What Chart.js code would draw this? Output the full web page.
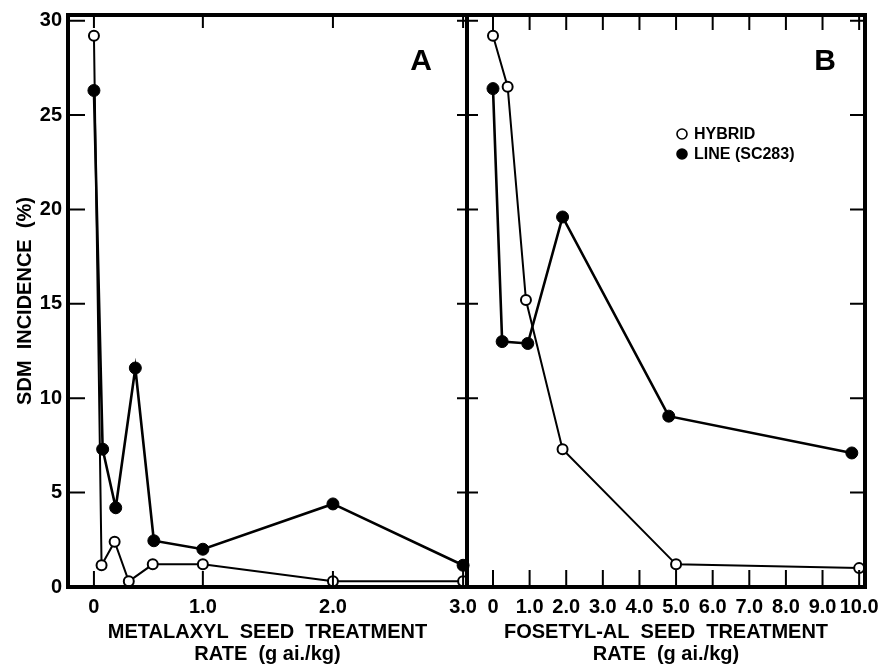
<!DOCTYPE html>
<html>
<head>
<meta charset="utf-8">
<script src="https://cdn.jsdelivr.net/npm/chart.js@4.4.1/dist/chart.umd.min.js"></script>
<style>
  body { margin: 0; background: #fff; }
  #wrap { position: relative; width: 886px; height: 665px; overflow: hidden; }
  canvas { position: absolute; top: 0; }
  #panelA { left: 0; }
  #panelB { left: 440px; }
</style>
</head>
<body>
<div id="wrap">
  <canvas id="panelA" width="480" height="665"></canvas>
  <canvas id="panelB" width="446" height="665"></canvas>
</div>
<script>
// panel A: metalaxyl rate (g a.i./kg) vs SDM incidence (%)
const metalaxylHybridX = [0, 0.07, 0.19, 0.32, 0.54, 1.0, 2.0, 3.0];
const metalaxylHybridY = [29.2, 1.15, 2.4, 0.3, 1.2, 1.2, 0.3, 0.3];
const metalaxylLineX = [0, 0.08, 0.2, 0.38, 0.55, 1.0, 2.0, 3.0];
const metalaxylLineY = [26.3, 7.3, 4.2, 11.6, 2.45, 2.0, 4.4, 1.15];

// panel B: fosetyl-Al rate
const fosetylHybridX = [0, 0.4, 0.9, 1.9, 5.0, 10.0];
const fosetylHybridY = [29.2, 26.5, 15.2, 7.3, 1.2, 1.0];
const fosetylLineX = [0, 0.25, 0.95, 1.9, 4.8, 9.8];
const fosetylLineY = [26.4, 13.0, 12.9, 19.6, 9.05, 7.1];

const seriesNames = ["HYBRID", "LINE (SC283)"];
const yTicks = [0, 5, 10, 15, 20, 25, 30];
const metalaxylTicks = [0, 1, 2, 3];
const metalaxylTickLabels = ["0", "1.0", "2.0", "3.0"];
const fosetylTicks = [0, 1, 2, 3, 4, 5, 6, 7, 8, 9, 10];
const fosetylTickLabels = ["0", "1.0", "2.0", "3.0", "4.0", "5.0", "6.0", "7.0", "8.0", "9.0", "10.0"];

// the metalaxyl axis is stretched between 0 and 1.0 on the original
const A_KNOTS = [[-0.24, 0], [0, 0.065], [1, 0.338], [2, 0.664], [3.03, 1]];

class KnotScale extends Chart.LinearScale {
  static id = "knot";
  static defaults = Chart.LinearScale.defaults;
  getPixelForValue(value) {
    const k = A_KNOTS;
    let i = 0;
    while (i < k.length - 2 && value > k[i + 1][0]) i++;
    const [v0, f0] = k[i], [v1, f1] = k[i + 1];
    return this.getPixelForDecimal(f0 + (value - v0) / (v1 - v0) * (f1 - f0));
  }
  getValueForPixel(pixel) {
    const d = this.getDecimalForPixel(pixel);
    const k = A_KNOTS;
    let i = 0;
    while (i < k.length - 2 && d > k[i + 1][1]) i++;
    const [v0, f0] = k[i], [v1, f1] = k[i + 1];
    return v0 + (d - f0) / (f1 - f0) * (v1 - v0);
  }
}
Chart.register(KnotScale);

const FONT = "'Liberation Sans', Arial, sans-serif";
const NARROW = "'Liberation Sans Narrow', 'Liberation Sans', Arial, sans-serif";

const toPoints = (xs, ys) => xs.map((x, i) => ({ x: x, y: ys[i] }));

const openStyle = {
  borderColor: "#000", borderWidth: 2,
  pointRadius: 5, pointBorderWidth: 2,
  pointBackgroundColor: "#fff", pointBorderColor: "#000",
  tension: 0, fill: false, clip: false
};
const filledStyle = {
  borderColor: "#000", borderWidth: 2.6,
  pointRadius: 6, pointBorderWidth: 1,
  pointBackgroundColor: "#000", pointBorderColor: "#000",
  tension: 0, fill: false, clip: false
};

// frame, inward ticks, panel letter and legend
const framePlugin = {
  id: "frame",
  afterDatasetsDraw(chart, args, opts) {
    const { ctx, chartArea: a, scales: { x, y } } = chart;
    ctx.save();
    ctx.strokeStyle = "#000";
    ctx.lineWidth = 2;
    ctx.beginPath();
    x.ticks.forEach(t => {
      const px = x.getPixelForValue(t.value);
      ctx.moveTo(px, a.top);
      ctx.lineTo(px, a.top + opts.tickTop);
      ctx.moveTo(px, a.bottom);
      ctx.lineTo(px, a.bottom - opts.tickBottom);
    });
    y.ticks.forEach(t => {
      const py = y.getPixelForValue(t.value);
      ctx.moveTo(a.left, py);
      ctx.lineTo(a.left + opts.tickLeft, py);
      ctx.moveTo(a.right, py);
      ctx.lineTo(a.right - opts.tickRight, py);
    });
    ctx.stroke();
    ctx.lineWidth = 4;
    ctx.strokeRect(a.left, a.top, a.right - a.left, a.bottom - a.top);

    ctx.fillStyle = "#000";
    ctx.font = "bold 30px " + FONT;
    ctx.textAlign = "center";
    ctx.textBaseline = "middle";
    ctx.fillText(opts.letter, opts.letterX, opts.letterY);

    if (opts.legend) {
      const L = opts.legend;
      ctx.font = "bold 16px " + FONT;
      ctx.textAlign = "left";
      chart.data.datasets.forEach((ds, i) => {
        const ly = L.y + i * L.gap;
        ctx.beginPath();
        ctx.arc(L.x, ly, 5, 0, Math.PI * 2);
        ctx.fillStyle = ds.pointBackgroundColor;
        ctx.fill();
        ctx.lineWidth = 1.6;
        ctx.stroke();
        ctx.fillStyle = "#000";
        ctx.fillText(ds.label, L.x + 12, ly + 1);
      });
    }
    ctx.restore();
  }
};

function fixX(h) {
  return s => { s.height = h; s.paddingLeft = 0; s.paddingRight = 0; };
}
function fixY(w) {
  return s => { s.width = w; s.paddingTop = 0; s.paddingBottom = 0; };
}

const xTickFont = { family: NARROW, size: 20, weight: "bold", lineHeight: 1.1 };
const yTickFont = { family: FONT, size: 20, weight: "bold", lineHeight: 1.2 };
const titleFont = { family: FONT, size: 20, weight: "bold", lineHeight: 1.1 };

new Chart(document.getElementById("panelA").getContext("2d"), {
  type: "line",
  data: {
    datasets: [
      { label: seriesNames[0], data: toPoints(metalaxylHybridX, metalaxylHybridY), ...openStyle, order: 1 },
      { label: seriesNames[1], data: toPoints(metalaxylLineX, metalaxylLineY), ...filledStyle, order: 2 }
    ]
  },
  options: {
    responsive: false,
    animation: false,
    layout: { padding: { top: 15, right: 13, left: 0, bottom: 0 } },
    plugins: {
      legend: { display: false },
      tooltip: { enabled: false },
      frame: { tickTop: 13, tickBottom: 16, tickLeft: 17, tickRight: 10, letter: "A", letterX: 421, letterY: 62 }
    },
    scales: {
      x: {
        type: "knot",
        min: -0.24, max: 3.03,
        afterBuildTicks: s => { s.ticks = metalaxylTicks.map(v => ({ value: v })); },
        afterFit: fixX(78),
        grid: { display: false, drawTicks: false },
        border: { display: false },
        ticks: {
          autoSkip: false, maxRotation: 0, padding: 9, color: "#000", font: xTickFont,
          callback: (v, i) => metalaxylTickLabels[i]
        },
        title: {
          display: true, color: "#000", font: titleFont,
          text: ["METALAXYL  SEED  TREATMENT", "RATE  (g ai./kg)"],
          padding: { top: 0, bottom: 0 }
        }
      },
      y: {
        min: 0, max: 30.3,
        afterBuildTicks: s => { s.ticks = yTicks.map(v => ({ value: v })); },
        afterFit: fixY(68),
        grid: { display: false, drawTicks: false },
        border: { display: false },
        ticks: { padding: 6, color: "#000", font: yTickFont },
        title: {
          display: true, color: "#000",
          font: { family: FONT, size: 20, weight: "bold", lineHeight: 1.2 },
          text: "SDM  INCIDENCE  (%)",
          padding: { top: 13, bottom: 0 }
        }
      }
    }
  },
  plugins: [framePlugin]
});

new Chart(document.getElementById("panelB").getContext("2d"), {
  type: "line",
  data: {
    datasets: [
      { label: seriesNames[0], data: toPoints(fosetylHybridX, fosetylHybridY), ...openStyle, order: 1 },
      { label: seriesNames[1], data: toPoints(fosetylLineX, fosetylLineY), ...filledStyle, order: 2 }
    ]
  },
  options: {
    responsive: false,
    animation: false,
    layout: { padding: { top: 15, right: 21, left: 0, bottom: 0 } },
    plugins: {
      legend: { display: false },
      tooltip: { enabled: false },
      frame: {
        tickTop: 15, tickBottom: 17, tickLeft: 11, tickRight: 15,
        letter: "B", letterX: 385, letterY: 62,
        legend: { x: 242, y: 134, gap: 20 }
      }
    },
    scales: {
      x: {
        type: "linear",
        min: -0.71, max: 10.16,
        afterBuildTicks: s => { s.ticks = fosetylTicks.map(v => ({ value: v })); },
        afterFit: fixX(78),
        grid: { display: false, drawTicks: false },
        border: { display: false },
        ticks: {
          autoSkip: false, maxRotation: 0, padding: 9, color: "#000", font: xTickFont,
          callback: (v, i) => fosetylTickLabels[i]
        },
        title: {
          display: true, color: "#000", font: titleFont,
          text: ["FOSETYL-AL  SEED  TREATMENT", "RATE  (g ai./kg)"],
          padding: { top: 0, bottom: 0 }
        }
      },
      y: {
        min: 0, max: 30.3,
        afterBuildTicks: s => { s.ticks = yTicks.map(v => ({ value: v })); },
        afterFit: fixY(27),
        grid: { display: false, drawTicks: false },
        border: { display: false },
        ticks: { display: false }
      }
    }
  },
  plugins: [framePlugin]
});
</script>
</body>
</html>
